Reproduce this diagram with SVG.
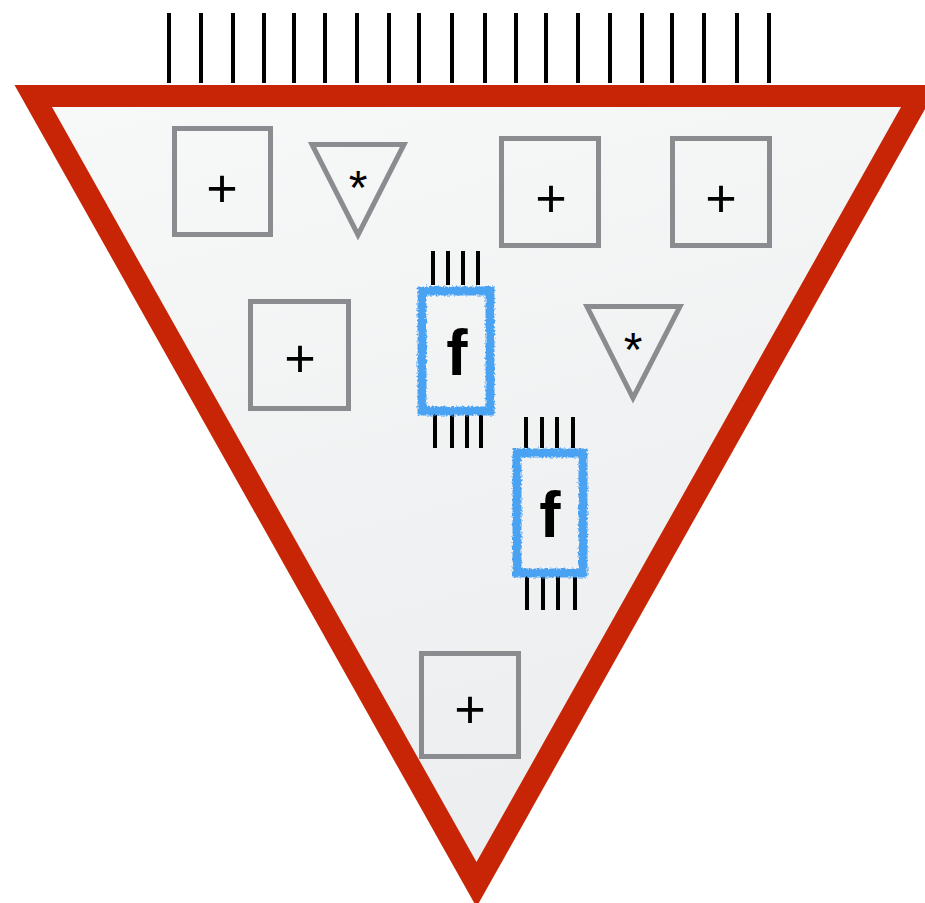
<svg xmlns="http://www.w3.org/2000/svg" width="925" height="903" viewBox="0 0 925 903">
  <defs>
    <linearGradient id="bg" x1="0" y1="0" x2="0.3" y2="1">
      <stop offset="0" stop-color="#f7f8f8"/>
      <stop offset="1" stop-color="#eceeef"/>
    </linearGradient>
    <filter id="rough" x="-20%" y="-20%" width="140%" height="140%">
      <feTurbulence type="fractalNoise" baseFrequency="0.5" numOctaves="2" seed="3" result="n"/>
      <feDisplacementMap in="SourceGraphic" in2="n" scale="5" xChannelSelector="R" yChannelSelector="G"/>
    </filter>
    <style>
      .box { fill: none; stroke: #8a8c8f; stroke-width: 5; }
      .pin { stroke: #000; stroke-width: 4; }
      .chip { fill: none; stroke: #4aa2f2; stroke-width: 9; }
      .plus { font-family: "Liberation Sans", Arial, sans-serif; font-size: 54px; fill: #000; text-anchor: middle; }
      .star { font-family: "Liberation Sans", Arial, sans-serif; font-size: 48px; fill: #000; text-anchor: middle; }
      .f { font-family: "Liberation Sans", Arial, sans-serif; font-size: 64px; font-weight: bold; fill: #000; text-anchor: middle; }
    </style>
  </defs>

  <g id="frame">
    <polygon points="14.5,85 938.5,85 476.5,907" fill="#c82506"/>
    <polygon points="52,107 901,107 476.5,862" fill="url(#bg)"/>
  </g>

  <g id="inputs">
    <line class="pin" x1="169" y1="13" x2="169" y2="83"/>
    <line class="pin" x1="201" y1="13" x2="201" y2="83"/>
    <line class="pin" x1="233" y1="13" x2="233" y2="83"/>
    <line class="pin" x1="264" y1="13" x2="264" y2="83"/>
    <line class="pin" x1="294" y1="13" x2="294" y2="83"/>
    <line class="pin" x1="325" y1="13" x2="325" y2="83"/>
    <line class="pin" x1="357" y1="13" x2="357" y2="83"/>
    <line class="pin" x1="389" y1="13" x2="389" y2="83"/>
    <line class="pin" x1="419" y1="13" x2="419" y2="83"/>
    <line class="pin" x1="452" y1="13" x2="452" y2="83"/>
    <line class="pin" x1="485" y1="13" x2="485" y2="83"/>
    <line class="pin" x1="516" y1="13" x2="516" y2="83"/>
    <line class="pin" x1="546" y1="13" x2="546" y2="83"/>
    <line class="pin" x1="578" y1="13" x2="578" y2="83"/>
    <line class="pin" x1="610" y1="13" x2="610" y2="83"/>
    <line class="pin" x1="642" y1="13" x2="642" y2="83"/>
    <line class="pin" x1="672" y1="13" x2="672" y2="83"/>
    <line class="pin" x1="704" y1="13" x2="704" y2="83"/>
    <line class="pin" x1="737" y1="13" x2="737" y2="83"/>
    <line class="pin" x1="769" y1="13" x2="769" y2="83"/>
  </g>

  <g id="add1">
    <rect class="box" x="174.5" y="128.5" width="96" height="106"/>
    <text class="plus" x="222" y="207">+</text>
  </g>
  <g id="mul1">
    <polygon class="box" points="312,144.5 404,144.5 358,235"/>
    <text class="star" x="358" y="204">*</text>
  </g>
  <g id="add2">
    <rect class="box" x="501.5" y="138.5" width="97" height="107"/>
    <text class="plus" x="551" y="217">+</text>
  </g>
  <g id="add3">
    <rect class="box" x="672.5" y="138.5" width="97" height="107"/>
    <text class="plus" x="721" y="217">+</text>
  </g>
  <g id="add4">
    <rect class="box" x="250.5" y="301.5" width="98" height="107"/>
    <text class="plus" x="300" y="377">+</text>
  </g>
  <g id="mul2">
    <polygon class="box" points="587,306.5 680,306.5 633,398"/>
    <text class="star" x="633" y="366">*</text>
  </g>
  <g id="add5">
    <rect class="box" x="421.5" y="653.5" width="97" height="103"/>
    <text class="plus" x="470" y="728">+</text>
  </g>

  <g id="f1">
    <line class="pin" x1="433" y1="251" x2="433" y2="285"/>
    <line class="pin" x1="448" y1="251" x2="448" y2="285"/>
    <line class="pin" x1="463" y1="251" x2="463" y2="285"/>
    <line class="pin" x1="478" y1="251" x2="478" y2="285"/>
    <line class="pin" x1="435" y1="413" x2="435" y2="448"/>
    <line class="pin" x1="452" y1="413" x2="452" y2="448"/>
    <line class="pin" x1="467" y1="413" x2="467" y2="448"/>
    <line class="pin" x1="481" y1="413" x2="481" y2="448"/>
    <rect class="chip" x="422" y="291" width="68" height="120" filter="url(#rough)"/>
    <text class="f" x="457" y="375">f</text>
  </g>
  <g id="f2">
    <line class="pin" x1="526" y1="417" x2="526" y2="448"/>
    <line class="pin" x1="542" y1="417" x2="542" y2="448"/>
    <line class="pin" x1="557" y1="417" x2="557" y2="448"/>
    <line class="pin" x1="573" y1="417" x2="573" y2="448"/>
    <line class="pin" x1="527" y1="575" x2="527" y2="610"/>
    <line class="pin" x1="543" y1="575" x2="543" y2="610"/>
    <line class="pin" x1="558" y1="575" x2="558" y2="610"/>
    <line class="pin" x1="575" y1="575" x2="575" y2="610"/>
    <rect class="chip" x="517" y="453" width="66" height="120" filter="url(#rough)"/>
    <text class="f" x="550" y="537">f</text>
  </g>

  <g id="connectors"/>
</svg>
